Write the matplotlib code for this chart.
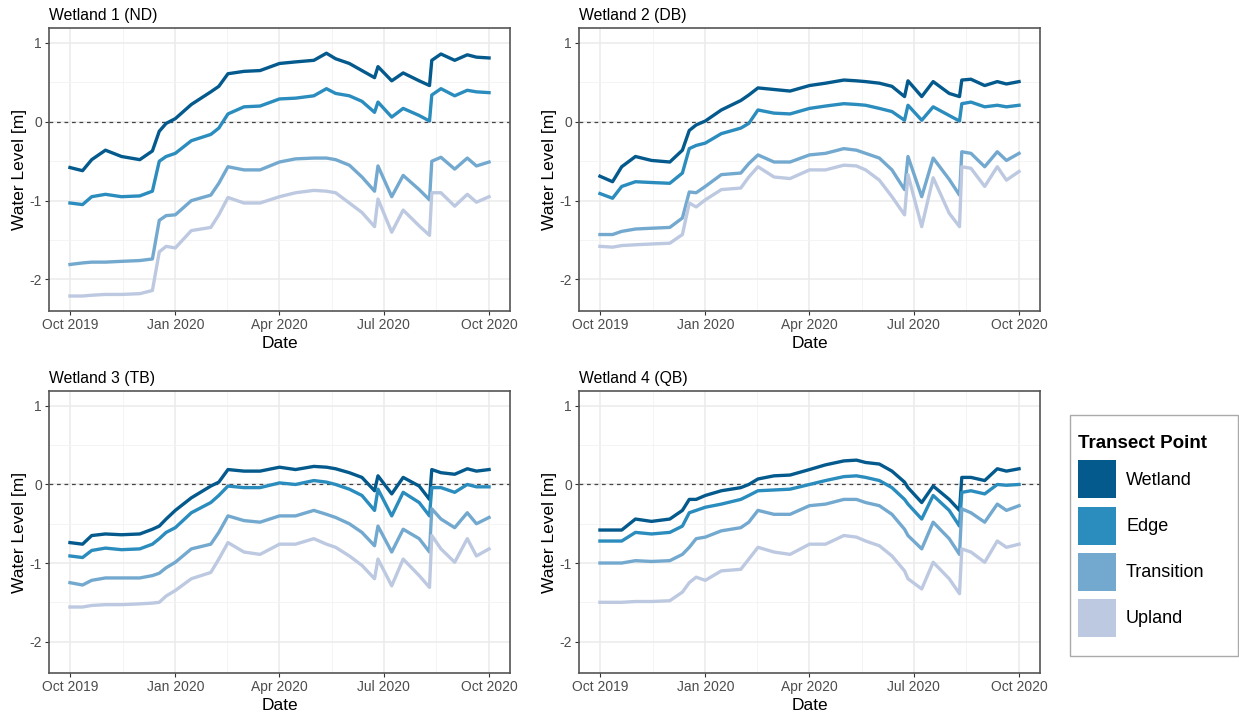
import numpy as np
import pandas as pd
import matplotlib
matplotlib.use("Agg")
import matplotlib.pyplot as plt
import matplotlib.dates as mdates
from matplotlib.patches import Patch, Rectangle

plt.rcParams['font.family'] = ['Liberation Sans', 'DejaVu Sans']

# sample dates shared by every logger series
dates = pd.to_datetime([
    "2019-10-01", "2019-10-12", "2019-10-20", "2019-11-01", "2019-11-15",
    "2019-12-01", "2019-12-12", "2019-12-18", "2019-12-24", "2020-01-01",
    "2020-01-15", "2020-02-01", "2020-02-08", "2020-02-16", "2020-03-01",
    "2020-03-15", "2020-04-01", "2020-04-15", "2020-05-01", "2020-05-12",
    "2020-05-20", "2020-06-01", "2020-06-12", "2020-06-23", "2020-06-26",
    "2020-07-08", "2020-07-18", "2020-08-01", "2020-08-10", "2020-08-12",
    "2020-08-20", "2020-09-01", "2020-09-12", "2020-09-20", "2020-10-01",
])

points = ["Wetland", "Edge", "Transition", "Upland"]
colors = ["#045a8d", "#2b8cbe", "#74a9cf", "#bdc9e1"]
titles = ["Wetland 1 (ND)", "Wetland 2 (DB)", "Wetland 3 (TB)", "Wetland 4 (QB)"]

# water level [m] per site, one list per transect point
nd_wetland = [-0.58, -0.62, -0.48, -0.36, -0.44, -0.48, -0.37, -0.12, -0.02, 0.04,
              0.22, 0.38, 0.45, 0.61, 0.64, 0.65, 0.74, 0.76, 0.78, 0.87,
              0.80, 0.74, 0.65, 0.56, 0.70, 0.52, 0.62, 0.52, 0.46, 0.78,
              0.86, 0.78, 0.85, 0.82, 0.81]
nd_edge = [-1.03, -1.05, -0.95, -0.92, -0.95, -0.94, -0.88, -0.50, -0.44, -0.40,
           -0.24, -0.16, -0.08, 0.10, 0.19, 0.20, 0.29, 0.30, 0.33, 0.42,
           0.36, 0.33, 0.26, 0.12, 0.25, 0.06, 0.17, 0.08, 0.01, 0.34,
           0.42, 0.33, 0.40, 0.38, 0.37]
nd_transition = [-1.81, -1.79, -1.78, -1.78, -1.77, -1.76, -1.74, -1.25, -1.19, -1.18,
                 -1.00, -0.93, -0.78, -0.57, -0.61, -0.61, -0.51, -0.47, -0.46, -0.46,
                 -0.48, -0.55, -0.70, -0.88, -0.56, -0.95, -0.68, -0.86, -0.99, -0.50,
                 -0.45, -0.60, -0.46, -0.56, -0.51]
nd_upland = [-2.21, -2.21, -2.20, -2.19, -2.19, -2.18, -2.14, -1.65, -1.58, -1.60,
             -1.38, -1.34, -1.18, -0.96, -1.03, -1.03, -0.95, -0.90, -0.87, -0.88,
             -0.90, -1.03, -1.15, -1.33, -0.98, -1.40, -1.12, -1.32, -1.44, -0.90,
             -0.90, -1.07, -0.92, -1.02, -0.95]

db_wetland = [-0.69, -0.76, -0.57, -0.44, -0.49, -0.51, -0.36, -0.11, -0.04, 0.01,
              0.15, 0.27, 0.34, 0.43, 0.41, 0.39, 0.46, 0.49, 0.53, 0.52,
              0.51, 0.49, 0.45, 0.32, 0.52, 0.32, 0.51, 0.36, 0.32, 0.53,
              0.54, 0.46, 0.51, 0.48, 0.51]
db_edge = [-0.91, -0.97, -0.82, -0.76, -0.77, -0.78, -0.65, -0.34, -0.30, -0.27,
           -0.15, -0.08, -0.02, 0.15, 0.11, 0.10, 0.17, 0.20, 0.23, 0.22,
           0.21, 0.17, 0.13, 0.02, 0.21, 0.02, 0.19, 0.08, 0.01, 0.23,
           0.25, 0.19, 0.21, 0.19, 0.21]
db_transition = [-1.43, -1.43, -1.39, -1.36, -1.35, -1.34, -1.22, -0.89, -0.90, -0.82,
                 -0.67, -0.65, -0.53, -0.42, -0.51, -0.51, -0.42, -0.40, -0.34, -0.36,
                 -0.40, -0.46, -0.61, -0.86, -0.44, -0.95, -0.46, -0.73, -0.93, -0.38,
                 -0.40, -0.57, -0.38, -0.49, -0.40]
db_upland = [-1.58, -1.59, -1.57, -1.56, -1.55, -1.54, -1.43, -1.03, -1.08, -0.99,
             -0.86, -0.84, -0.70, -0.57, -0.70, -0.72, -0.61, -0.61, -0.55, -0.56,
             -0.61, -0.74, -0.95, -1.18, -0.67, -1.33, -0.71, -1.16, -1.33, -0.57,
             -0.59, -0.82, -0.57, -0.74, -0.63]

tb_wetland = [-0.74, -0.76, -0.65, -0.63, -0.64, -0.63, -0.57, -0.53, -0.44, -0.33,
              -0.17, -0.02, 0.03, 0.19, 0.17, 0.17, 0.22, 0.19, 0.23, 0.22,
              0.20, 0.15, 0.09, -0.08, 0.11, -0.12, 0.09, -0.02, -0.19, 0.19,
              0.15, 0.13, 0.20, 0.17, 0.19]
tb_edge = [-0.91, -0.93, -0.84, -0.81, -0.83, -0.82, -0.76, -0.69, -0.61, -0.55,
           -0.36, -0.23, -0.14, -0.02, -0.04, -0.04, 0.02, 0.00, 0.05, 0.03,
           0.00, -0.06, -0.14, -0.33, -0.06, -0.40, -0.10, -0.23, -0.40, -0.04,
           -0.04, -0.10, 0.00, -0.03, -0.03]
tb_transition = [-1.25, -1.28, -1.22, -1.19, -1.19, -1.19, -1.16, -1.13, -1.06, -0.99,
                 -0.82, -0.76, -0.61, -0.40, -0.46, -0.48, -0.40, -0.40, -0.33, -0.38,
                 -0.42, -0.50, -0.61, -0.78, -0.53, -0.86, -0.57, -0.69, -0.86, -0.31,
                 -0.44, -0.55, -0.36, -0.50, -0.42]
tb_upland = [-1.56, -1.56, -1.54, -1.53, -1.53, -1.52, -1.51, -1.50, -1.42, -1.35,
             -1.20, -1.12, -0.95, -0.74, -0.86, -0.89, -0.76, -0.76, -0.69, -0.76,
             -0.80, -0.91, -1.03, -1.20, -0.95, -1.29, -0.95, -1.16, -1.31, -0.65,
             -0.82, -0.99, -0.69, -0.91, -0.82]

qb_wetland = [-0.58, -0.58, -0.58, -0.44, -0.47, -0.44, -0.33, -0.19, -0.19, -0.14,
              -0.08, -0.04, 0.00, 0.07, 0.11, 0.12, 0.19, 0.25, 0.30, 0.31,
              0.28, 0.26, 0.17, 0.03, -0.04, -0.23, -0.02, -0.19, -0.33, 0.09,
              0.09, 0.05, 0.20, 0.17, 0.20]
qb_edge = [-0.72, -0.72, -0.72, -0.61, -0.63, -0.61, -0.53, -0.36, -0.33, -0.29,
           -0.25, -0.19, -0.14, -0.08, -0.07, -0.06, 0.00, 0.05, 0.10, 0.11,
           0.09, 0.05, -0.04, -0.19, -0.25, -0.44, -0.14, -0.33, -0.53, -0.10,
           -0.08, -0.12, 0.00, -0.01, 0.00]
qb_transition = [-1.00, -1.00, -1.00, -0.97, -0.98, -0.97, -0.89, -0.80, -0.69, -0.67,
                 -0.59, -0.55, -0.48, -0.33, -0.38, -0.38, -0.27, -0.25, -0.19, -0.19,
                 -0.23, -0.27, -0.38, -0.57, -0.65, -0.82, -0.48, -0.69, -0.89, -0.31,
                 -0.36, -0.48, -0.25, -0.33, -0.27]
qb_upland = [-1.50, -1.50, -1.50, -1.49, -1.49, -1.48, -1.37, -1.25, -1.18, -1.22,
             -1.10, -1.08, -0.95, -0.80, -0.86, -0.89, -0.76, -0.76, -0.65, -0.67,
             -0.72, -0.78, -0.91, -1.10, -1.20, -1.33, -0.99, -1.20, -1.39, -0.82,
             -0.86, -0.99, -0.72, -0.80, -0.76]

sites = [
    [nd_wetland, nd_edge, nd_transition, nd_upland],
    [db_wetland, db_edge, db_transition, db_upland],
    [tb_wetland, tb_edge, tb_transition, tb_upland],
    [qb_wetland, qb_edge, qb_transition, qb_upland],
]

W, H = 1239, 717
fig = plt.figure(figsize=(W / 100, H / 100), dpi=100)

# axes boxes in pixels: left, top, right, bottom
boxes = [(49, 28, 510, 311), (579, 28, 1040, 311),
         (49, 391, 510, 673), (579, 391, 1040, 673)]

major = pd.to_datetime(["2019-10-01", "2020-01-01", "2020-04-01", "2020-07-01", "2020-10-01"])
major_num = mdates.date2num(major)
minor_num = (major_num[:-1] + major_num[1:]) / 2
span = major_num[-1] - major_num[0]

for k in range(4):
    l, t, r, b = boxes[k]
    ax = fig.add_axes([l / W, 1 - b / H, (r - l) / W, (b - t) / H])
    ax.set_xlim(major_num[0] - 0.05 * span, major_num[-1] + 0.05 * span)
    ax.set_ylim(-2.40, 1.19)

    ax.set_xticks(major_num)
    ax.set_xticklabels([d.strftime("%b %Y") for d in major])
    ax.set_xticks(minor_num, minor=True)
    ax.set_yticks([-2, -1, 0, 1])
    ax.set_yticklabels(["-2", "-1", "0", "1"])
    ax.set_yticks([-1.5, -0.5, 0.5], minor=True)

    ax.grid(which="major", color="#EBEBEB", linewidth=1.1, zorder=0)
    ax.grid(which="minor", color="#F3F3F3", linewidth=0.6, zorder=0)
    ax.set_axisbelow(True)

    for s in ax.spines.values():
        s.set_color("#555555")
        s.set_linewidth(1.2)
    ax.tick_params(which="major", length=3, width=0.8, color="#333333",
                   labelsize=10, labelcolor="#4D4D4D", pad=2)
    ax.tick_params(which="minor", length=0)

    ax.axhline(0, color="#444444", linestyle=(0, (3, 3)), linewidth=0.9, zorder=1)

    for series, col in zip(sites[k], colors):
        ax.plot(dates, series, color=col, linewidth=2.4, solid_joinstyle="round", zorder=2)

    ax.set_title(titles[k], loc="left", fontsize=11.3, color="black", pad=6)
    ax.set_xlabel("Date", fontsize=12.5, color="black", labelpad=3)
    ax.set_ylabel("Water Level [m]", fontsize=12.5, color="black", labelpad=2)

# legend frame drawn separately so its size can be set in pixels
fig.add_artist(Rectangle((1070 / W, 1 - 656 / H), 168 / W, 241 / H,
                         transform=fig.transFigure, facecolor="white",
                         edgecolor="#AAAAAA", linewidth=1.0))

handles = [Patch(facecolor=c, edgecolor="none") for c in colors]
leg = fig.legend(handles, points, loc="upper left",
                 bbox_to_anchor=(1071 / W, 1 - 428 / H),
                 title="Transect Point", fontsize=13,
                 title_fontproperties={"weight": "bold", "size": 13.5},
                 alignment="left", frameon=False,
                 handlelength=2.1, handleheight=2.87, handletextpad=0.55,
                 labelspacing=0.45, borderpad=0.4, borderaxespad=0)

fig.savefig("out.png", dpi=100, facecolor="white")
